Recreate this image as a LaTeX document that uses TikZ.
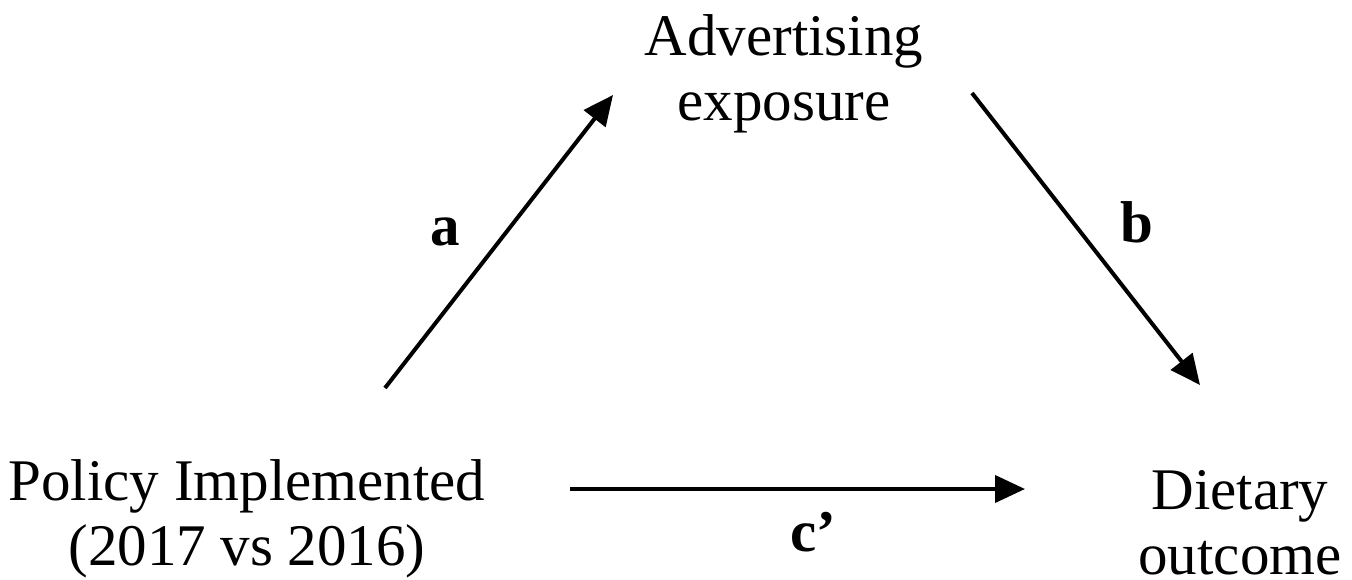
\documentclass[tikz,border=0pt]{standalone}
\usepackage{fontspec}
\setmainfont{Liberation Serif}
\usetikzlibrary{arrows.meta}
\begin{document}
\begin{tikzpicture}[x=1pt,y=1pt,
  lbl/.style={font=\fontsize{59}{65}\selectfont, align=center, anchor=base, inner sep=0pt},
  pathlbl/.style={font=\fontsize{59}{65}\selectfont\bfseries, inner sep=0pt},
  conn/.style={line width=4pt, -{Triangle[length=30pt,width=27pt]}}]
\useasboundingbox (0,0) rectangle (1352,-579);
\node[lbl] (adv) at (784,-120) {Advertising\\exposure};
\node[lbl] (pol) at (247,-565) {Policy Implemented\\(2017 vs 2016)};
\node[lbl] (die) at (1240,-574) {Dietary\\outcome};
\coordinate (aS) at (385,-388);
\coordinate (aE) at (613,-95);
\coordinate (bS) at (972,-93);
\coordinate (bE) at (1200,-385);
\coordinate (cS) at (570,-489);
\coordinate (cE) at (1025,-489);
\draw[conn] (aS) -- (aE);
\draw[conn] (bS) -- (bE);
\draw[conn] (cS) -- (cE);
\node[pathlbl] (la) at (445,-232) {a};
\node[pathlbl] (lb) at (1137,-222) {b};
\node[pathlbl] (lc) at (813,-532) {c’};
\end{tikzpicture}
\end{document}
